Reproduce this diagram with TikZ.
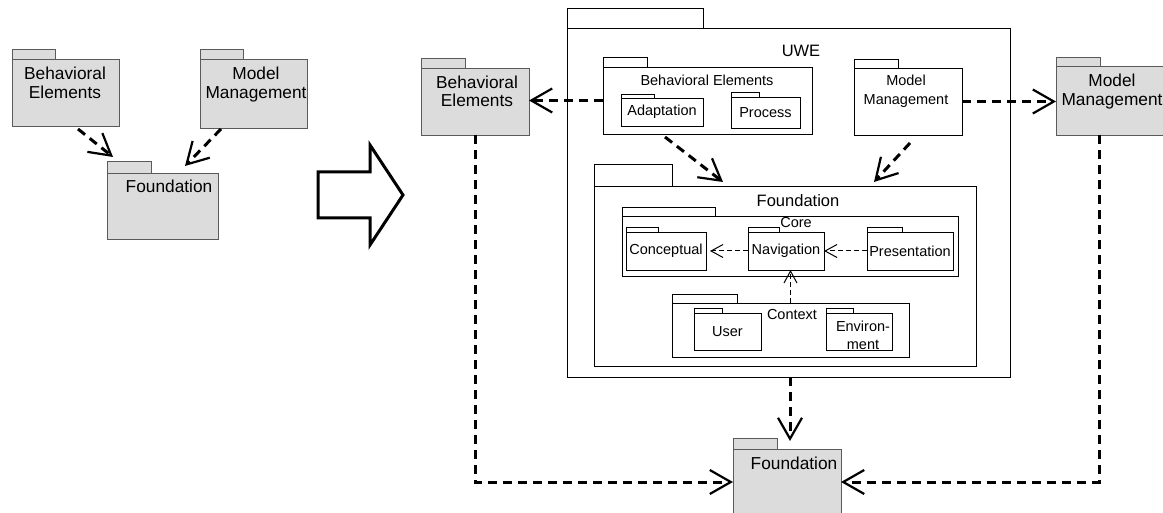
\documentclass[tikz,border=0pt]{standalone}
\usepackage{fontspec}
\setmainfont{Liberation Sans}
\usetikzlibrary{arrows.meta}
\definecolor{pkggray}{HTML}{DCDCDC}
\definecolor{pkgline}{HTML}{5A5A5A}

\begin{document}
\begin{tikzpicture}[
    x=1pt,y=-1pt,
    pkg/.style 2 args={draw,line width=0.9pt,inner sep=0pt,outer sep=0pt,
        anchor=north west,minimum width=#1pt,minimum height=#2pt},
    graypkg/.style 2 args={pkg={#1}{#2},fill=pkggray,draw=pkgline},
    pkgtab/.style 2 args={draw,line width=0.9pt,inner sep=0pt,outer sep=0pt,
        anchor=south west,minimum width=#1pt,minimum height=#2pt},
    graytab/.style 2 args={pkgtab={#1}{#2},fill=pkggray,draw=pkgline},
    bigname/.style={font=\fontsize{17.3}{19}\selectfont,align=center,
        inner sep=0pt,anchor=north},
    midname/.style={font=\fontsize{16.5}{19}\selectfont,inner sep=0pt,
        anchor=north},
    smallname/.style={font=\fontsize{14.5}{18}\selectfont,align=center,
        inner sep=0pt},
    dep/.style={dash pattern=on 9pt off 6pt,line width=3pt,
        -{Straight Barb[length=21pt,width=24pt,line width=2.2pt]}},
    finedep/.style={dash pattern=on 5pt off 3pt,line width=1pt,
        -{Straight Barb[length=12pt,width=13pt,line width=1pt]}},
    ]
    \useasboundingbox (0,0) rectangle (1163,513);

    % Original packages
    \node[graypkg={107}{67}] (beA) at (12,59) {};
    \node[graytab={43}{10}] (beAtab) at (beA.north west) {};
    \node[bigname] (beAname) at (65,67) {Behavioral\\Elements};
    \node[graypkg={107}{69}] (mmA) at (200,59) {};
    \node[graytab={43}{10}] (mmAtab) at (mmA.north west) {};
    \node[bigname] (mmAname) at (256,67) {Model\\Management};
    \node[graypkg={111}{66}] (fdA) at (107,173) {};
    \node[graytab={44}{12}] (fdAtab) at (fdA.north west) {};
    \node[bigname] (fdAname) at (169,180) {Foundation};
    \draw[dep] ([shift={(66,3)}]beA.south west)
            -- ([shift={(6,-16)}]fdA.north west);
    \draw[dep] ([shift={(21,1)}]mmA.south west)
            -- ([shift={(78,-7)}]fdA.north west);

    % Transformation arrow
    \draw[line width=3pt,line join=miter]
        (318,172) -- (370,172) -- (370,145) -- (403,195)
        -- (370,245) -- (370,218) -- (318,218) -- cycle;

    % Extended packages
    \node[graypkg={108}{67}] (beB) at (421,68) {};
    \node[graytab={44}{10}] (beBtab) at (beB.north west) {};
    \node[bigname,font=\fontsize{17.3}{18}\selectfont] (beBname) at (477,76)
        {Behavioral\\Elements};
    \node[graypkg={112}{69}] (mmB) at (1056,66) {};
    \node[graytab={44}{9}] (mmBtab) at (mmB.north west) {};
    \node[bigname] (mmBname) at (1112,74) {Model\\Management};
    \node[graypkg={108}{66}] (fdB) at (733,449) {};
    \node[graytab={44}{11}] (fdBtab) at (fdB.north west) {};
    \node[bigname] (fdBname) at (794,457) {Foundation};

    % UWE
    \node[pkg={443}{349}] (uwe) at (567,28) {};
    \node[pkgtab={136}{20}] (uwetab) at (uwe.north west) {};
    \node[midname] (uwename) at (801,45) {UWE};

    \node[pkg={209}{67}] (beI) at (603,67) {};
    \node[pkgtab={44}{10}] (beItab) at (beI.north west) {};
    \node[smallname,anchor=north] (beIname) at (707,75) {Behavioral Elements};
    \node[pkg={82}{28},smallname] (ada) at (621,98) {Adaptation};
    \node[pkgtab={33}{4}] (adatab) at (ada.north west) {};
    \node[pkg={69}{31},smallname] (pro) at (731,97) {Process};
    \node[pkgtab={28}{5}] (protab) at (pro.north west) {};

    \node[pkg={108}{67}] (mmI) at (854,68) {};
    \node[pkgtab={44}{9}] (mmItab) at (mmI.north west) {};
    \node[smallname,anchor=north,font=\fontsize{14.5}{19}\selectfont]
        (mmIname) at (906,75) {Model\\Management};

    \node[pkg={382}{180}] (fdI) at (594,186) {};
    \node[pkgtab={78}{22}] (fdItab) at (fdI.north west) {};
    \node[midname] (fdIname) at (798,194) {Foundation};

    \node[pkg={336}{60}] (core) at (622,216) {};
    \node[pkgtab={93}{9}] (coretab) at (core.north west) {};
    \node[smallname,anchor=north] (corename) at (796,217) {Core};
    \node[pkg={80}{38},smallname] (con) at (626,232) {Conceptual};
    \node[pkgtab={32}{5}] (contab) at (con.north west) {};
    \node[pkg={76}{38},smallname] (nav) at (748,232) {Navigation};
    \node[pkgtab={31}{5}] (navtab) at (nav.north west) {};
    \node[pkg={86}{38},smallname] (pre) at (867,232) {Presentation};
    \node[pkgtab={35}{5}] (pretab) at (pre.north west) {};

    \node[pkg={237}{54}] (ctx) at (672,303) {};
    \node[pkgtab={65}{9}] (ctxtab) at (ctx.north west) {};
    \node[smallname,anchor=north] (ctxname) at (792,309) {Context};
    \node[pkg={67}{37},smallname] (usr) at (694,313) {User};
    \node[pkgtab={28}{5}] (usrtab) at (usr.north west) {};
    \node[pkg={66}{37},smallname] (env) at (826,313) {};
    \node[pkgtab={27}{5}] (envtab) at (env.north west) {};
    \node[smallname] (envname) at (863,335) {Environ-\\ment};

    % Dependencies inside the core
    \draw[finedep] (nav.west) -- ([xshift=4]con.east);
    \draw[finedep] (pre.west) -- (nav.east);
    \draw[finedep] (ctx.north) -- (ctx.north |- nav.south);

    % Dependencies of the extension
    \draw[dep] (beI.west) -- (beI.west -| beB.east);
    \draw[dep] (mmI.east) -- (mmI.east -| mmB.west);
    \draw[dep] ([shift={(62,3)}]beI.south west)
            -- ([shift={(129,-4)}]fdI.north west);
    \draw[dep] ([shift={(56,8)}]mmI.south west)
            -- ([shift={(280,-4)}]fdI.north west);
    \draw[dep] ([xshift=1.5]uwe.south) -- ([xshift=1.5,yshift=8]uwe.south |- fdB.north);
    \draw[dep] (beB.south) |- (fdB.west);
    \draw[dep] ([xshift=-13]mmB.south) |- (fdB.east);
\end{tikzpicture}
\end{document}
